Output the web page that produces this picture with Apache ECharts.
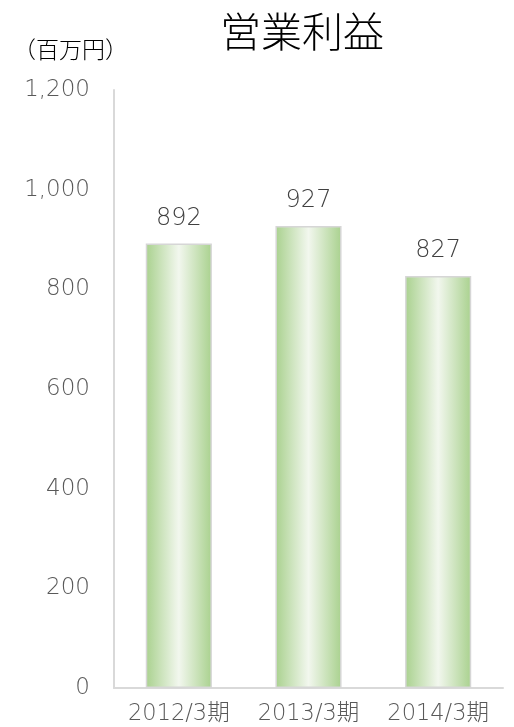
<!DOCTYPE html>
<html><head><meta charset="utf-8">
<script src="https://cdn.jsdelivr.net/npm/echarts@6/dist/echarts.min.js"></script>
<style>html,body{margin:0;padding:0;background:#fff}#c{width:514px;height:727px}</style>
</head><body><div id="c"></div>
<script>
const categories = ['2012/3期', '2013/3期', '2014/3期'];
const values = [892, 927, 827];
const yTicks = [0, 200, 400, 600, 800, 1000, 1200];
const titleText = '営業利益';
const unitText = '（百万円）';

const cjk = '"Noto Sans CJK JP", sans-serif';
const num = '"DejaVu Sans", "Noto Sans CJK JP", sans-serif';
const chart = echarts.init(document.getElementById('c'), null, {renderer: 'canvas'});
chart.setOption({
  animation: false,
  backgroundColor: '#fff',
  title: [
    {text: titleText, left: 297, top: 6, textAlign: 'center',
     textStyle: {fontSize: 41, fontWeight: 300, color: '#000', fontFamily: cjk}},
    {text: unitText, left: 8, top: 33,
     textStyle: {fontSize: 23, fontWeight: 300, color: '#000', fontFamily: cjk}}
  ],
  grid: {left: 114, right: 11, top: 90, bottom: 39, containLabel: false},
  xAxis: {
    type: 'category', data: categories,
    axisLine: {lineStyle: {color: '#d9d9d9', width: 2}},
    axisTick: {show: false},
    axisLabel: {interval: 0, hideOverlap: false, fontSize: 22.5, color: '#595959', margin: 15, fontFamily: num, fontWeight: 200}
  },
  yAxis: {
    type: 'value', min: yTicks[0], max: yTicks[yTicks.length - 1], interval: 200,
    axisLine: {show: true, lineStyle: {color: '#d9d9d9', width: 2}},
    axisTick: {show: false},
    splitLine: {show: false},
    axisLabel: {fontSize: 23, color: '#595959', margin: 24, fontFamily: num, fontWeight: 200,
      formatter: v => v.toLocaleString('en-US')}
  },
  series: [{
    type: 'bar', data: values, barWidth: '51%',
    itemStyle: {
      borderColor: '#d6d6d6', borderWidth: 1.5,
      color: new echarts.graphic.LinearGradient(0, 0, 1, 0, [
        {offset: 0, color: '#a9d18e'},
        {offset: 0.5, color: '#f2f7ee'},
        {offset: 1, color: '#a9d18e'}
      ])
    },
    label: {show: true, position: 'top', distance: 13, fontSize: 24, color: '#404040', fontFamily: num, fontWeight: 200}
  }]
});
</script></body></html>
